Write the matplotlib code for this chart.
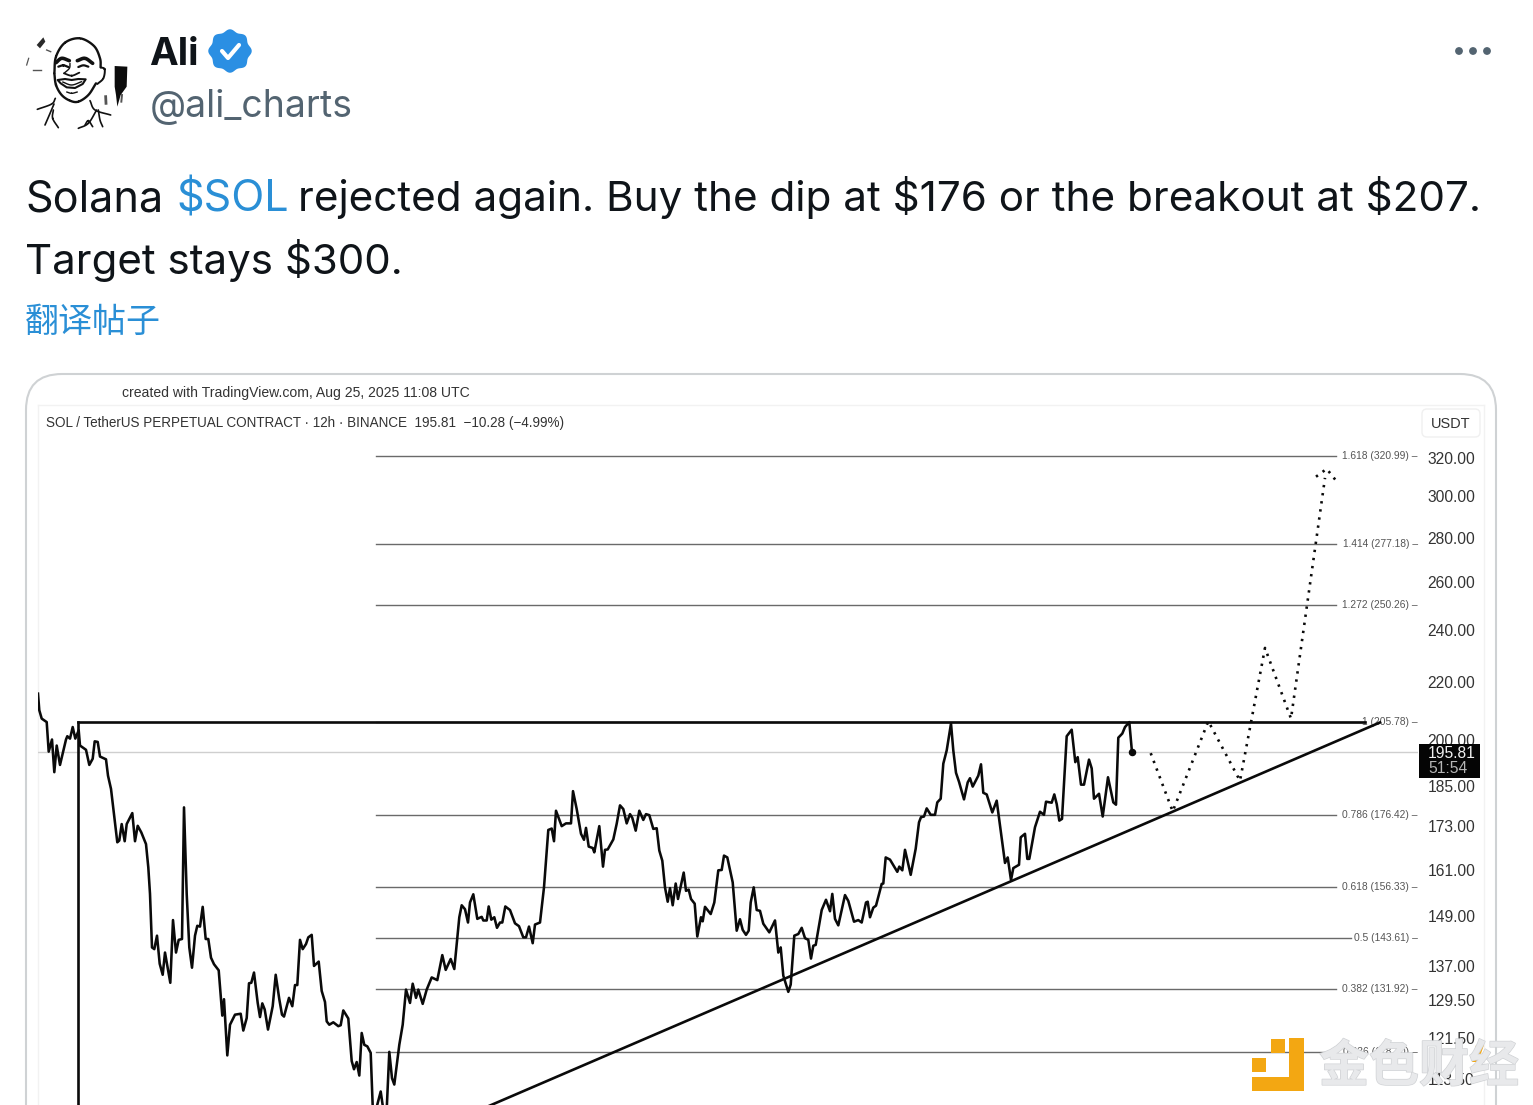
import numpy as np
import matplotlib
matplotlib.use("Agg")
import matplotlib.pyplot as plt
from matplotlib.patches import FancyBboxPatch, Rectangle, Circle, Polygon
from matplotlib.transforms import blended_transform_factory
import matplotlib.patheffects as pe

# ---------- data ----------
bar_index = [0,1.3,3.7,8.7,10.7,14,16.3,18.7,22,28,29.3,32,34.7,37.3,40.7,42,48,51.3,54.7,56.7,59.7,62,68,70,73,79.3,81.3,83.7,86.7,88.7,94.3,97,99.7,103.3,108,110.3,112,114,116.3,119,121.7,124.7,127,132.3,135,138,140.7,144,146,148.7,151.3,154,157,159.3,162,164.7,167.7,170.3,173,176,180.7,184.3,186,189.3,192,197,202.7,205.3,208.7,211,213.3,216,219.7,222,224.3,226.7,230,234.7,237.7,241.3,244,246,251,254.3,257,259.3,262,264.7,268,270.3,273.7,276,280.7,283.7,287,288.7,291.3,295.3,300.3,302.7,305.3,310.3,313.7,316,318.7,321.3,323.7,326.3,329.3,332.7,334.7,337,342.7,345.3,348.7,351.3,354,356.3,361.3,364.7,368,372,
 374.7,378,380.3,384.7,388.7,393.7,399.3,404.3,407.7,412.7,416.3,421.3,423.7,427,430,432,435.3,439.3,443.7,445.3,448.7,450.7,453.3,456.3,459,462,464.3,467.3,472,477,481,485.3,488,491,494.7,497,502,506,510.3,513.7,516,518,523.7,528,533,535,538.7,543,546,548,550.7,554.7,556.3,561.3,565,567,569.7,575.3,578.7,582,585.3,588.7,592,594.3,597.7,601.3,605.3,608,611.3,615.3,618.7,621.3,624.3,627,629.7,632,634.7,637.7,640,645.7,648,650.7,653,656.7,659.3,663,664.7,667,672.7,676.3,680.3,683.7,686,689.3,694.7,698.7,702,704.7,708,710.7,712.7,715.7,718.7,722,725.3,731.3,737,740.3,742.7,745.3,750.3,752.7,756.3,760.3,
 763.7,767,770.3,773,775.3,777.7,783.7,788,792,794.3,797,800.3,807,810.3,816,820.3,823.7,828,829.7,832,835.3,838,843.7,845.3,847.7,852,859.3,861.3,864.3,867,872.7,877.7,881,883,886,888.7,892.7,897,899.3,902.7,905.3,908.7,913,915.3,918,921,926,929.7,932,934.7,940.3,943,945.3,948.7,954.3,958.7,962,967,969.7,973,975.3,981,982.7,987,989.3,991.3,997,1002,1006,1008,1013.7,1016.3,1018.7,1021.3,1024,1028.7,1033.7,1037.3,1039.7,1043,1046,1051,1053.7,1056,1061,1064.7,1070,1075.3,1078,1080.3,1084.3,1087,1091.3,1094]
close_price = [215.9,210.0,207.1,205.9,196.0,200.0,189.4,198.0,191.7,200.0,201.1,200.3,204.2,200.3,203.1,198.0,196.6,191.7,193.7,199.4,199.2,194.4,193.5,188.3,184.2,168.5,169.0,173.7,168.8,173.7,176.9,168.8,173.2,171.3,168.0,161.6,154.6,141.4,141.0,144.2,137.6,135.1,140.2,133.3,148.0,140.2,143.2,143.4,178.6,154.6,141.4,136.7,144.2,146.6,146.4,151.3,143.4,143.4,139.0,137.5,136.1,126.2,129.7,118.1,124.3,126.4,126.6,123.1,125.7,133.2,133.3,135.6,128.9,125.9,128.8,127.5,123.3,128.2,135.1,129.7,126.4,126.0,130.0,128.2,132.8,132.8,143.2,141.0,142.2,143.8,144.4,137.1,138.1,131.5,129.1,125.0,124.3,124.8,124.0,124.2,127.3,125.6,117.0,115.4,116.8,114.2,122.6,120.2,119.9,118.6,108.5,107.2,111.2,107.9,107.9,118.8,113.7,112.5,120.2,124.3,131.8,128.9,
 133.1,130.0,131.8,128.7,131.8,134.5,133.9,139.6,136.2,138.7,136.4,148.7,151.7,150.7,147.4,152.4,154.5,148.3,148.8,147.9,147.9,151.4,148.1,148.7,146.1,147.4,147.4,151.4,150.5,147.2,146.5,143.8,143.8,146.4,142.4,146.9,147.4,156.3,172.0,172.4,168.8,177.6,173.1,173.9,173.9,183.5,178.1,170.9,169.2,172.6,167.3,166.9,165.7,173.1,161.8,166.4,166.5,169.3,173.8,179.2,178.1,173.9,176.6,175.5,171.8,177.6,174.9,176.6,176.3,172.3,172.5,166.2,163.4,156.3,152.6,156.1,151.7,157.3,153.3,160.2,155.4,155.7,153.3,152.1,144.0,148.7,147.7,151.3,149.5,152.4,160.8,160.9,164.8,164.3,157.6,145.4,148.2,145.6,144.4,145.4,152.4,156.3,150.5,150.3,147.1,145.0,147.9,140.2,141.4,134.9,131.3,132.9,144.2,144.6,
 146.1,143.6,143.2,138.8,141.8,142.0,150.5,153.1,150.2,154.6,148.3,146.7,154.3,152.8,147.6,148.0,147.4,152.4,152.6,148.7,151.1,151.6,157.2,157.3,164.3,163.7,160.4,161.8,160.8,166.4,159.6,166.7,174.2,175.7,175.9,178.3,176.4,176.4,180.1,181.2,192.1,196.4,205.4,196.4,189.2,186.4,181.0,186.2,187.5,184.9,188.3,191.9,183.0,182.5,177.1,180.6,173.3,162.8,164.3,158.2,161.4,162.3,169.9,170.9,163.9,163.9,172.8,177.3,176.4,180.3,180.0,182.5,179.6,174.7,175.2,201.1,203.3,192.6,194.2,185.5,185.5,193.4,190.6,181.2,182.7,175.9,187.8,180.1,179.4,200.6,202.0,204.2,205.9,195.81]

projection_bar = [1112.7,1134.7,1170.3,1202,1227,1253,1287]
projection_price = [195.5,177.4,206.2,186.7,233.0,207.1,309.4]
arrow_bar = [1278,1288.7,1298]
arrow_price = [310.0,314.1,308.0]

fib_ratio = ["1.618","1.414","1.272","1","0.786","0.618","0.5","0.382","0.236"]
fib_price = [320.99,277.18,250.26,205.78,176.42,156.33,143.61,131.92,118.7]
fib_start_bar = 338
fib_end_bar = [1298,1298,1298,1327,1298,1298,1313,1298,1298]

resistance_bar = [40,1327]
resistance_price = [205.78,205.78]
support_bar = [449,1342]
support_price = [108.4,205.78]
last_price = 195.81

tick_price = [320,300,280,260,240,220,200,185,173,161,149,137,129.5,121.5,113.5]

FW, FH = 1533, 1105
plt.rcParams['font.family'] = ['Liberation Sans', 'DejaVu Sans']
fig = plt.figure(figsize=(FW/100, FH/100), dpi=100, facecolor='white')
px = 0.72  # points per pixel at 100 dpi

# ---------- background layer (tweet, panel) ----------
bg = fig.add_axes([0, 0, 1, 1], zorder=0)
bg.set_xlim(0, FW); bg.set_ylim(FH, 0); bg.axis('off')

# avatar: sketch coordinates are given inside a 115x105 box placed at (20, 30), 3 units per pixel
def sk(points):
    a = np.array(points, float)
    return np.c_[20 + a[:, 0]/3, 30 + a[:, 1]/3]

def smooth(points, lw=1.3, c='#111111'):
    """Catmull-Rom stroke through the sketch points."""
    a = sk(points)
    p = np.vstack([2*a[0]-a[1], a, 2*a[-1]-a[-2]])
    out = []
    for i in range(1, len(p)-2):
        for s in np.linspace(0, 1, 12):
            out.append(0.5*((2*p[i]) + (p[i+1]-p[i-1])*s + (2*p[i-1]-5*p[i]+4*p[i+1]-p[i+2])*s**2
                            + (3*p[i]-p[i-1]-3*p[i+1]+p[i+2])*s**3))
    out = np.array(out)
    bg.plot(out[:, 0], out[:, 1], color=c, lw=lw, solid_capstyle='round')

smooth([(103,130),(108,80),(135,38),(180,25),(222,48),(240,85),(242,112)], 1.7)
smooth([(242,112),(254,118),(250,145),(232,162)], 1.4)
smooth([(103,130),(108,165),(125,195),(150,212),(175,215),(205,195),(228,160)], 1.7)
smooth([(108,98),(125,85),(148,92)], 2.6); smooth([(172,92),(195,85),(218,100)], 2.6)
smooth([(115,110),(130,106),(145,111)], 1.6); smooth([(175,111),(190,106),(205,110)], 1.6)
smooth([(150,100),(148,115),(132,130)], 1.0); smooth([(132,130),(155,137),(178,128)], 1.3)
bg.add_patch(Polygon(sk([(113,150),(135,147),(155,150),(175,147),(197,148),(188,162),(165,174),(140,172),(122,160)]),
                     fc='white', ec='#111111', lw=1.5, joinstyle='round'))
smooth([(128,156),(155,165),(185,155)], 1.0)
smooth([(140,186),(155,190),(172,186)], 1.0)
for pts in ([(52,238),(95,222),(106,205)], [(75,285),(88,255),(102,222)], [(100,240),(98,265),(115,293)],
            [(210,212),(225,240),(272,255)], [(230,240),(205,280),(175,295)], [(235,240),(240,270),(248,290)],
            [(195,285),(205,272),(218,290)]):
    smooth(pts, 1.2)
bg.add_patch(Polygon(sk([(284,108),(322,110),(320,170),(302,195),(292,230),(288,195),(284,170)]), fc='#0c0c0c', ec='none'))
bg.add_patch(Polygon(sk([(50,45),(70,22),(76,35),(60,55)]), fc='#2a2a2a', ec='none'))
for pts, w in (([(40,120),(62,120)], 1.0), ([(80,60),(92,65)], 1.0), ([(20,105),(26,85)], 0.9),
               ([(257,200),(258,220)], 2.0), ([(306,195),(304,215)], 1.4)):
    a = sk(pts)
    bg.plot(a[:, 0], a[:, 1], color='#555555', lw=w)

# name, handle, badge, menu dots
bg.text(149.5, 65, "Ali", family=['Inter','DejaVu Sans'], weight='bold', fontsize=38.5*px, color='#0f1419', va='baseline')
th = np.linspace(0, 2*np.pi, 240)
r = 20.5*(1+0.06*np.cos(8*th))
bg.add_patch(Polygon(np.c_[230+r*np.cos(th), 51+r*np.sin(th)], fc='#2b8fe3', ec='none'))
bg.plot([222,228,239], [51,58,45], color='white', lw=3.0, solid_capstyle='round', solid_joinstyle='round')
bg.text(149.5, 117, "@ali_charts", family=['Inter','DejaVu Sans'], fontsize=37.4*px, color='#536471', va='baseline')
for cx in (1459, 1473, 1487):
    bg.add_patch(Circle((cx, 51), 3.9, fc='#536471', ec='none'))

# tweet body
body_font = ['Inter', 'DejaVu Sans']
def body(x, y, s, size, c='#0f1419'):
    bg.text(x, y, s, family=body_font, fontsize=size*px, color=c, va='baseline', parse_math=False)
body(25, 211, "Solana", 43.2)
body(176, 211, "$SOL", 43.2, '#2a8fd6')
body(298, 211, "rejected again. Buy the dip at $176 or the breakout at $207.", 42.27)
body(25, 274, "Target stays $300.", 42.1)
bg.text(25, 322, "翻译帖子", family=['Noto Sans CJK SC','DejaVu Sans'], fontsize=34*px, color='#2a8fd6', va='center')

# panel
bg.add_patch(FancyBboxPatch((26, 374), 1470, 800, boxstyle="round,pad=0,rounding_size=36",
                            fc='white', ec='#cfd2d4', lw=1.5))
bg.plot([38,38], [405,1105], color='#f2f2f2', lw=1)
bg.plot([38,1484], [405,405], color='#f2f2f2', lw=1)
bg.plot([1484,1484], [405,1105], color='#f2f2f2', lw=1)

# ---------- price chart ----------
L, R, T, B = 38, 1418, 404.8, 1106.8
ax = fig.add_axes([L/FW, 1-B/FH, (R-L)/FW, (B-T)/FH], zorder=1)
ax.patch.set_alpha(0)
ax.set_yscale('log')
ax.set_xlim(0, R-L)
ax.set_ylim(108.4, 349.5)
for s in ax.spines.values():
    s.set_visible(False)
ax.set_xticks([])
ax.yaxis.tick_right()
ax.set_yticks(tick_price)
ax.set_yticklabels([f"{v:.2f}" for v in tick_price], fontsize=15.6*px, color='#333333')
ax.tick_params(axis='y', which='both', length=0, pad=7.0)
ax.yaxis.set_minor_locator(matplotlib.ticker.NullLocator())

ax.axhline(last_price, color='#cfcfcf', lw=1.0, zorder=1)
edge = blended_transform_factory(ax.transAxes, ax.transData)
for ratio, price, end in zip(fib_ratio, fib_price, fib_end_bar):
    ax.plot([fib_start_bar, end], [price, price], color='#6a6a6a', lw=1.0, zorder=2)
    ax.text(1.0, price, f"{ratio} ({price:.2f}) –", transform=edge, ha='right', va='center',
            fontsize=10.2*px, color='#555555', zorder=3)

ax.plot(resistance_bar, resistance_price, color='#0a0a0a', lw=1.9, zorder=4)
ax.plot([resistance_bar[0]]*2, [108.4, resistance_price[0]], color='#0a0a0a', lw=1.9, zorder=4)
ax.plot(support_bar, support_price, color='#0a0a0a', lw=1.9, zorder=4)
ax.plot(bar_index, close_price, color='#0a0a0a', lw=1.85, zorder=5, solid_joinstyle='round')
ax.plot(bar_index[-1], close_price[-1], 'o', color='#0a0a0a', ms=4.4, zorder=6)
ax.plot(projection_bar, projection_price, color='#0a0a0a', lw=1.9, ls=(0, (0.9, 2.2)), zorder=5)
ax.plot(arrow_bar, arrow_price, color='#0a0a0a', lw=1.9, ls=(0, (0.9, 2.2)), zorder=5)

# ---------- top layer (chart header, price tag, watermark) ----------
top = fig.add_axes([0, 0, 1, 1], zorder=2)
top.set_xlim(0, FW); top.set_ylim(FH, 0); top.axis('off'); top.patch.set_alpha(0)

top.text(122, 392.5, "created with TradingView.com, Aug 25, 2025 11:08 UTC", fontsize=14.05*px, color='#333333', va='center')
top.text(46, 423, "SOL / TetherUS PERPETUAL CONTRACT · 12h · BINANCE  195.81  −10.28 (−4.99%)", fontsize=13.52*px, color='#333333', va='center')
top.add_patch(FancyBboxPatch((1422, 409), 58, 28, boxstyle="round,pad=0,rounding_size=5", fc='white', ec='#f0f0f0', lw=1))
top.text(1451, 423.5, "USDT", fontsize=14.5*px, color='#333333', ha='center', va='center')

top.add_patch(Rectangle((1418.5, 744), 61.5, 34, fc='#050505', ec='none'))
top.text(1451.5, 753, "195.81", fontsize=15.6*px, color='#f0f0f0', ha='center', va='center')
top.text(1428, 768.5, "51:54", fontsize=15.6*px, color='#b5b5b5', ha='left', va='center')

orange = '#f3a712'
for x0, y0, w, h in [(1271, 1039, 14, 14), (1289, 1038, 15, 53), (1252, 1077, 52, 14), (1252, 1058, 14, 14)]:
    top.add_patch(Rectangle((x0, y0), w, h, fc=orange, ec='none'))
wm = top.text(1419, 1067, "金色财经", family=['Noto Sans CJK SC','DejaVu Sans'], weight='bold',
              fontsize=50*px, color='#e8e9eb', ha='center', va='center')
wm.set_path_effects([pe.withStroke(linewidth=1.0, foreground='#d0d2d5')])
top.add_patch(Polygon([[1476,1045],[1484,1045],[1478,1062],[1472,1062]], fc=orange, ec='none'))

fig.savefig('out.png', dpi=100)
